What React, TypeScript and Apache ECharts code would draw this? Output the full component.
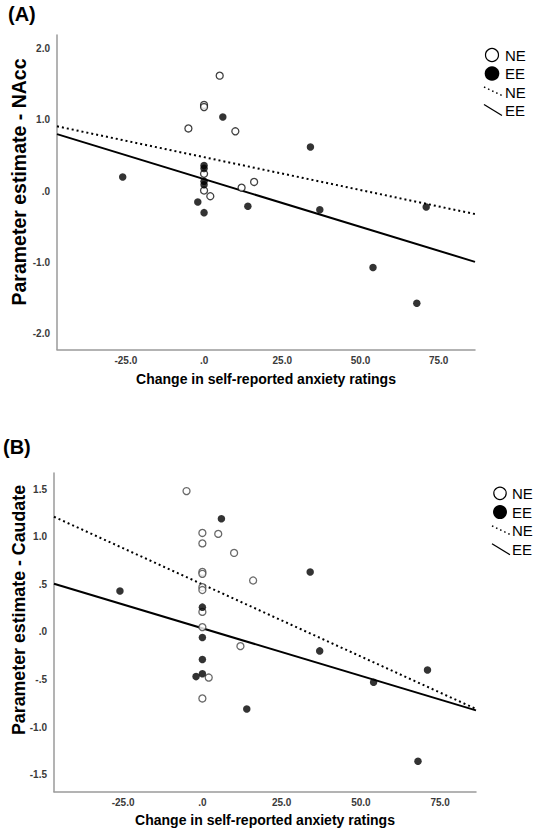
import React, { useEffect, useRef } from "react";
import * as echarts from "echarts";

const panelLabels = ["(A)", "(B)"];
const yAxisNames = ["Parameter estimate - NAcc", "Parameter estimate - Caudate"];
const xAxisName = "Change in self-reported anxiety ratings";
const legendLabels = ["NE", "EE", "NE", "EE"];
const xTicks = [-25, 0, 25, 50, 75];
const yTicksA = [-2, -1, 0, 1, 2];
const yTicksB = [-1.5, -1, -0.5, 0, 0.5, 1, 1.5];

// Panel A: NAcc
const nAccNE: number[][] = [
  [-5, 0.88], [0, 1.21], [0, 1.18], [5, 1.62], [10, 0.84],
  [0, 0.245], [0, 0.01], [2, -0.07], [12, 0.05], [16, 0.13],
];
const nAccEE: number[][] = [
  [-26, 0.2], [6, 1.04], [0, 0.36], [0, 0.32], [0, 0.14], [0, 0.09],
  [-2, -0.15], [0, -0.3], [14, -0.21], [34, 0.62], [37, -0.26],
  [71, -0.22], [54, -1.07], [68, -1.57],
];
const nAccNEFit: number[][] = [[-47, 0.91], [86.6, -0.32]];
const nAccEEFit: number[][] = [[-47, 0.8], [86.6, -0.99]];

// Panel B: Caudate
const caudNE: number[][] = [
  [-5, 1.48], [0, 1.04], [0, 0.93], [5, 1.03], [10, 0.83], [0, 0.63],
  [0, 0.61], [0, 0.47], [0, 0.44], [16, 0.54], [0, 0.21], [0, 0.05],
  [12, -0.15], [2, -0.48], [0, -0.7],
];
const caudEE: number[][] = [
  [6, 1.19], [-26, 0.43], [0, 0.26], [0, -0.06], [0, -0.29], [0, -0.44],
  [-2, -0.47], [14, -0.81], [34, 0.63], [37, -0.2], [54, -0.53],
  [71, -0.4], [68, -1.36],
];
const caudNEFit: number[][] = [[-46.8, 1.21], [86.3, -0.81]];
const caudEEFit: number[][] = [[-46.8, 0.505], [86.3, -0.825]];

const FONT = "Liberation Sans";

const fmt = (v: number) => {
  const s = Number(v).toFixed(1);
  return s.replace(/^(-?)0\./, "$1.");
};

function axisCommon(customValues: number[], margin: number) {
  return {
    type: "value" as const,
    axisLine: { show: true, onZero: false, lineStyle: { color: "#9a9a9a", width: 1.5 } },
    axisTick: { show: false },
    splitLine: { show: false },
    axisLabel: {
      customValues,
      formatter: fmt,
      fontFamily: FONT,
      fontWeight: "bold" as const,
      fontSize: 10,
      color: "#3a3a3a",
      margin,
    },
    nameLocation: "middle" as const,
  };
}

function legendGraphics(cx: number, cy0: number, textX: number, step: number, r: number) {
  const els: any[] = [];
  els.push({ type: "circle", shape: { cx, cy: cy0, r }, style: { fill: "#fff", stroke: "#000", lineWidth: 1.2 } });
  els.push({ type: "circle", shape: { cx, cy: cy0 + step, r: r + 0.8 }, style: { fill: "#000" } });
  els.push({
    type: "line",
    shape: { x1: cx - 8, y1: cy0 + 2 * step - 5, x2: cx + 10, y2: cy0 + 2 * step + 3.5 },
    style: { stroke: "#000", lineWidth: 1.5, lineDash: [1.5, 3] },
  });
  els.push({
    type: "line",
    shape: { x1: cx - 8, y1: cy0 + 3 * step - 6, x2: cx + 10, y2: cy0 + 3 * step + 5 },
    style: { stroke: "#000", lineWidth: 1.3 },
  });
  legendLabels.forEach((t, i) => {
    els.push({
      type: "text",
      x: textX,
      y: cy0 + i * step,
      style: { text: t, fontFamily: FONT, fontSize: 15, fill: "#000", verticalAlign: "middle", align: "left" },
    });
  });
  return els;
}

function yName(text: string, x: number, y: number, size: number) {
  return {
    type: "text",
    x,
    y,
    rotation: Math.PI / 2,
    style: { text, fontFamily: FONT, fontWeight: "bold", fontSize: size, fill: "#000", align: "center", verticalAlign: "middle" },
  };
}

export default function App() {
  const ref = useRef<HTMLDivElement>(null);
  useEffect(() => {
    if (!ref.current) return;
    const chart = echarts.init(ref.current, undefined, { renderer: "svg" });
    const open = { color: "#fff", borderColor: "#111", borderWidth: 1.3 };
    const filled = { color: "#000" };
    const xNameStyle = { fontFamily: FONT, fontWeight: "bold", color: "#000", fontSize: 14 };
    const option: any = {
      animation: false,
      backgroundColor: "#fff",
      grid: [
        { left: 57, top: 35, width: 418, height: 314.6 },
        { left: 54, top: 473, width: 422, height: 318.7 },
      ],
      xAxis: [
        { ...axisCommon(xTicks, 6), gridIndex: 0, min: -47, max: 86.6, name: xAxisName, nameGap: 22, nameTextStyle: xNameStyle },
        { ...axisCommon(xTicks, 6), gridIndex: 1, min: -46.8, max: 86.3, name: xAxisName, nameGap: 21, nameTextStyle: xNameStyle },
      ],
      yAxis: [
        { ...axisCommon(yTicksA, 7), gridIndex: 0, min: -2.22, max: 2.19 },
        { ...axisCommon(yTicksB, 7), gridIndex: 1, min: -1.68, max: 1.67 },
      ],
      series: [
        { type: "line", xAxisIndex: 0, yAxisIndex: 0, data: nAccNEFit, symbol: "none", z: 1,
          lineStyle: { color: "#000", width: 2, type: [2, 3] } },
        { type: "line", xAxisIndex: 0, yAxisIndex: 0, data: nAccEEFit, symbol: "none", z: 1,
          lineStyle: { color: "#000", width: 2 } },
        { type: "scatter", xAxisIndex: 0, yAxisIndex: 0, data: nAccNE, symbolSize: 7, itemStyle: open, z: 3 },
        { type: "scatter", xAxisIndex: 0, yAxisIndex: 0, data: nAccEE, symbolSize: 7.5, itemStyle: filled, z: 3 },
        { type: "line", xAxisIndex: 1, yAxisIndex: 1, data: caudNEFit, symbol: "none", z: 1,
          lineStyle: { color: "#000", width: 2, type: [2, 3] } },
        { type: "line", xAxisIndex: 1, yAxisIndex: 1, data: caudEEFit, symbol: "none", z: 1,
          lineStyle: { color: "#000", width: 2 } },
        { type: "scatter", xAxisIndex: 1, yAxisIndex: 1, data: caudNE, symbolSize: 7,
          itemStyle: { color: "#fff", borderColor: "#444", borderWidth: 1.3 }, z: 3 },
        { type: "scatter", xAxisIndex: 1, yAxisIndex: 1, data: caudEE, symbolSize: 7.5, itemStyle: filled, z: 3 },
      ],
      graphic: [
        { type: "text", x: 8, y: 14, style: { text: panelLabels[0], fontFamily: FONT, fontWeight: "bold", fontSize: 20, fill: "#000", verticalAlign: "middle" } },
        { type: "text", x: 3, y: 447, style: { text: panelLabels[1], fontFamily: FONT, fontWeight: "bold", fontSize: 20, fill: "#000", verticalAlign: "middle" } },
        yName(yAxisNames[0], 18.5, 182, 19.5),
        yName(yAxisNames[1], 18.5, 610, 17.8),
        ...legendGraphics(492, 55, 505, 18.5, 6.5),
        ...legendGraphics(500, 493.3, 512, 18.8, 6.2),
      ],
    };
    chart.setOption(option);
    return () => chart.dispose();
  }, []);
  return (
    <div
      ref={ref}
      style={{ position: "absolute", left: 0, top: 0, width: 535, height: 830, background: "#fff" }}
    />
  );
}
